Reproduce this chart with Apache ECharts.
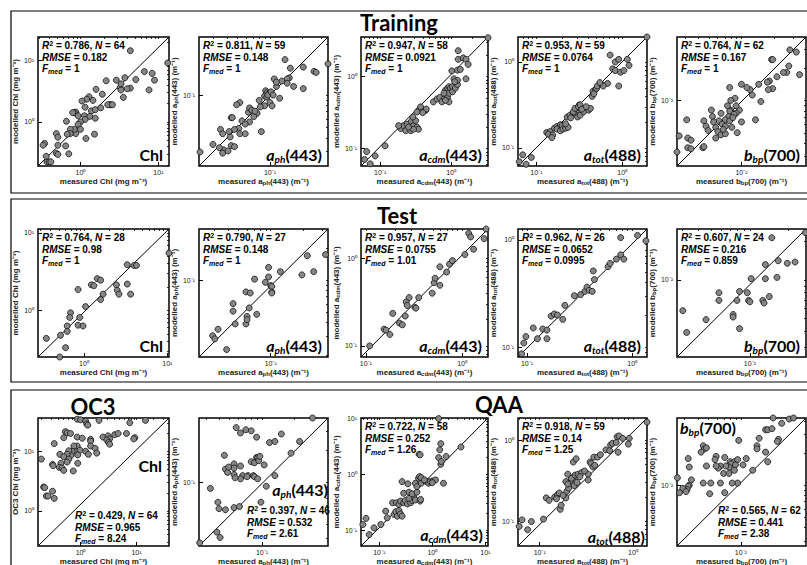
<!DOCTYPE html>
<html><head><meta charset="utf-8">
<script src="https://cdn.jsdelivr.net/npm/echarts@6/dist/echarts.min.js"></script>
<style>html,body{margin:0;padding:0;background:#fff}#c{width:807px;height:565px}</style>
</head><body><div id="c"></div>
<script>
// ---------- DATA (log10 of measured, log10 of modelled) ----------
const trainChl = [[0.64,1.16],[1.12,0.96],[0.82,0.82],[0.92,0.79],[0.95,0.68],[0.71,0.69],[0.57,0.72],[0.46,0.68],[0.51,0.56],[0.52,0.52],[0.64,0.55],[0.88,0.52],[0.55,0.40],[0.33,0.67],[0.20,0.53],[0.28,0.45],[0.39,0.28],[0.37,0.28],[0.35,0.28],[0.11,0.41],[0.08,0.37],[0.02,0.34],[0.06,0.24],[-0.06,0.16],[-0.08,0.15],[-0.10,0.15],[0.05,0.10],[-0.03,0.10],[0.12,0.09],[0.14,0.18],[0.19,0.20],[0.19,0.06],[0.06,0.04],[0.00,0.00],[-0.03,-0.04],[0.00,-0.12],[-0.06,-0.19],[-0.08,-0.12],[-0.13,-0.12],[-0.18,0.01],[-0.13,-0.19],[0.07,-0.27],[0.18,-0.20],[-0.17,-0.20],[-0.31,-0.19],[-0.29,-0.25],[-0.29,-0.38],[-0.31,-0.51],[-0.29,-0.53],[-0.46,-0.35],[-0.48,-0.38],[-0.19,-0.39],[-0.15,-0.52],[-0.43,-0.65],[-0.40,-0.65],[-0.38,-0.65],[-0.44,-0.56],[0.16,0.35],[0.26,0.23],[0.41,0.28],[0.60,0.54],[0.52,0.62]];
const trainAph = [[-0.86,-0.67],[-0.81,-0.75],[-0.69,-0.74],[-0.59,-0.78],[-0.57,-0.79],[-0.46,-0.71],[-0.82,-0.84],[-0.84,-0.85],[-0.84,-0.89],[-0.89,-0.87],[-0.78,-0.92],[-0.69,-0.94],[-0.96,-0.85],[-0.94,-0.92],[-1.04,-0.96],[-1.03,-0.98],[-1.05,-1.01],[-1.03,-1.02],[-1.01,-0.99],[-0.91,-1.03],[-1.00,-1.07],[-0.98,-1.10],[-1.05,-1.10],[-1.09,-1.11],[-1.12,-1.17],[-1.15,-1.20],[-1.20,-1.16],[-1.19,-1.12],[-1.17,-1.14],[-1.14,-1.15],[-1.28,-1.07],[-1.31,-1.09],[-1.36,-1.21],[-1.35,-1.21],[-1.26,-1.24],[-1.19,-1.25],[-1.23,-1.27],[-1.29,-1.31],[-1.28,-1.36],[-1.33,-1.32],[-1.38,-1.34],[-1.46,-1.32],[-1.44,-1.36],[-1.37,-1.39],[-1.08,-1.34],[-1.23,-1.36],[-1.36,-1.47],[-1.33,-1.48],[-1.43,-1.51],[-1.39,-1.52],[-1.47,-1.49],[-1.53,-1.46],[-1.44,-1.54],[-1.65,-1.53],[-0.94,-0.88],[-1.02,-1.00],[-0.99,-0.97],[-0.97,-1.00],[-1.10,-1.05]];
const trainAcdm = [[-1.22,-1.15],[-1.19,-1.04],[-1.14,-1.21],[-1.07,-1.10],[-0.93,-0.96],[-0.71,-0.72],[-0.67,-0.68],[-0.62,-0.66],[-0.56,-0.62],[-0.53,-0.68],[-0.48,-0.70],[-0.50,-0.61],[-0.64,-0.75],[-0.57,-0.75],[-0.46,-0.73],[-0.74,-0.68],[-0.54,-0.56],[-0.53,-0.73],[-0.46,-0.47],[-0.42,-0.45],[-0.39,-0.47],[-0.36,-0.47],[-0.43,-0.42],[-0.48,-0.49],[-0.35,-0.45],[-0.25,-0.35],[-0.20,-0.31],[-0.16,-0.29],[-0.10,-0.31],[-0.05,-0.29],[-0.03,-0.35],[-0.13,-0.35],[-0.08,-0.33],[-0.08,-0.19],[-0.05,-0.16],[-0.03,-0.14],[-0.01,-0.16],[0.02,-0.14],[-0.03,-0.23],[0.02,-0.21],[0.06,-0.16],[-0.10,-0.23],[0.09,-0.11],[0.01,0.08],[0.09,0.09],[0.04,-0.03],[0.09,-0.05],[0.10,0.24],[0.17,0.26],[0.21,0.24],[0.24,0.17],[0.13,0.10],[0.10,0.36],[0.52,0.54],[0.21,-0.03],[0.05,-0.07],[-0.60,-0.70],[-0.40,-0.50]];
const trainAtot = [[-1.20,-1.16],[-1.16,-1.08],[-1.12,-1.19],[-1.06,-1.11],[-0.88,-0.82],[-0.84,-0.81],[-0.86,-0.84],[-0.81,-0.85],[-0.79,-0.77],[-0.76,-0.75],[-0.76,-0.78],[-0.72,-0.73],[-0.70,-0.74],[-0.72,-0.80],[-0.69,-0.78],[-0.66,-0.77],[-0.63,-0.76],[-0.82,-0.88],[-0.64,-0.64],[-0.61,-0.62],[-0.57,-0.59],[-0.54,-0.60],[-0.53,-0.56],[-0.51,-0.53],[-0.50,-0.50],[-0.52,-0.64],[-0.49,-0.62],[-0.57,-0.58],[-0.55,-0.54],[-0.51,-0.52],[-0.49,-0.50],[-0.45,-0.58],[-0.39,-0.56],[-0.37,-0.54],[-0.35,-0.40],[-0.34,-0.34],[-0.31,-0.32],[-0.30,-0.31],[-0.33,-0.37],[-0.29,-0.28],[-0.24,-0.26],[-0.17,-0.25],[-0.22,-0.28],[-0.04,-0.28],[-0.14,0.08],[-0.11,-0.08],[-0.08,-0.10],[-0.08,0.00],[-0.04,0.03],[-0.02,-0.12],[0.06,0.03],[0.08,-0.04],[0.02,-0.10],[0.29,0.29],[-0.60,-0.65],[-0.47,-0.55],[-0.42,-0.52],[-0.26,-0.24],[-0.66,-0.72]];
const trainBbp = [[-1.55,-1.53],[-1.49,-1.55],[-1.72,-1.62],[-1.71,-1.62],[-1.56,-1.68],[-1.58,-1.74],[-1.61,-1.74],[-1.46,-1.76],[-1.67,-1.78],[-1.74,-1.82],[-1.71,-1.89],[-1.76,-1.83],[-1.84,-1.85],[-1.75,-1.90],[-2.00,-1.85],[-2.11,-1.88],[-1.92,-1.90],[-1.90,-1.95],[-2.06,-1.98],[-1.82,-2.01],[-1.87,-2.18],[-2.02,-2.09],[-2.05,-2.12],[-2.10,-2.09],[-2.11,-2.10],[-2.07,-2.13],[-2.12,-2.15],[-2.19,-2.12],[-2.15,-2.18],[-2.21,-2.19],[-2.18,-2.22],[-2.15,-2.24],[-2.11,-2.19],[-2.08,-2.16],[-2.28,-2.09],[-2.27,-2.15],[-2.35,-2.19],[-2.33,-2.24],[-2.31,-2.28],[-2.24,-2.25],[-2.22,-2.29],[-2.24,-2.35],[-2.19,-2.32],[-2.15,-2.31],[-2.04,-2.30],[-2.36,-2.44],[-2.51,-2.18],[-2.58,-2.33],[-2.50,-2.35],[-2.47,-2.37],[-2.50,-2.44],[-2.47,-2.45],[-2.60,-2.48],[-2.10,-2.00],[-2.05,-2.05],[-2.17,-2.27],[-2.35,-2.43],[-2.13,-2.05],[-1.95,-1.88],[-2.00,-2.20],[-2.26,-2.20],[-2.09,-2.25]];

const testChl = [[1.02,0.74],[0.52,0.59],[0.60,0.58],[0.63,0.58],[0.16,0.41],[0.20,0.39],[0.09,0.33],[0.12,0.32],[0.39,0.33],[0.40,0.26],[0.52,0.34],[0.56,0.21],[0.42,0.21],[0.23,0.21],[0.20,0.14],[-0.07,0.27],[0.02,0.05],[-0.16,-0.03],[-0.17,-0.09],[-0.05,-0.09],[-0.07,-0.19],[-0.01,-0.20],[-0.20,-0.20],[-0.20,-0.27],[-0.28,-0.32],[-0.45,-0.36],[-0.22,-0.48],[-0.29,-0.60]];
const testAph = [[-0.49,-0.76],[-0.66,-0.77],[-0.91,-0.92],[-1.02,-0.88],[-1.02,-0.97],[-1.05,-1.02],[-1.15,-0.99],[-1.00,-1.05],[-0.99,-1.06],[-0.99,-1.11],[-0.99,-1.12],[-0.71,-0.95],[-0.60,-0.92],[-1.23,-1.11],[-1.19,-1.12],[-1.20,-1.26],[-1.35,-1.22],[-1.35,-1.29],[-1.22,-1.34],[-1.23,-1.41],[-1.22,-1.37],[-1.13,-1.32],[-1.33,-1.41],[-1.49,-1.46],[-1.54,-1.52],[-1.52,-1.55],[-1.41,-1.65]];
const testAcdm = [[-0.96,-1.00],[-0.81,-0.81],[-0.79,-0.82],[-0.75,-0.87],[-0.72,-0.63],[-0.65,-0.74],[-0.62,-0.76],[-0.59,-0.66],[-0.58,-0.50],[-0.57,-0.54],[-0.55,-0.45],[-0.49,-0.56],[-0.48,-0.57],[-0.45,-0.45],[-0.31,-0.40],[-0.29,-0.28],[-0.28,-0.23],[-0.23,-0.31],[-0.23,-0.10],[-0.16,-0.16],[-0.13,-0.07],[-0.10,-0.03],[0.03,0.04],[0.07,0.28],[0.09,0.24],[0.12,0.10],[0.25,0.33],[0.23,0.22]];
const testAtot = [[-1.05,-1.06],[-1.03,-0.96],[-1.01,-0.90],[-0.94,-0.82],[-0.90,-0.92],[-0.85,-0.83],[-0.81,-0.84],[-0.81,-0.92],[-0.77,-0.71],[-0.74,-0.69],[-0.71,-0.70],[-0.66,-0.74],[-0.64,-0.61],[-0.55,-0.52],[-0.49,-0.51],[-0.45,-0.48],[-0.43,-0.44],[-0.41,-0.47],[-0.38,-0.48],[-0.37,-0.29],[-0.36,-0.37],[-0.23,-0.25],[-0.21,-0.22],[-0.15,-0.18],[-0.11,-0.14],[-0.11,0.02],[-0.08,-0.18],[0.05,0.04],[0.13,-0.01]];
const testBbp = [[-1.83,-1.67],[-1.57,-1.63],[-1.78,-1.85],[-1.71,-1.87],[-1.65,-1.86],[-1.88,-1.88],[-1.99,-1.99],[-1.88,-1.99],[-1.79,-1.98],[-2.08,-2.09],[-2.02,-2.10],[-2.01,-2.16],[-2.24,-2.10],[-2.24,-2.16],[-2.10,-2.16],[-2.00,-2.17],[-1.90,-2.16],[-1.89,-2.18],[-1.85,-2.13],[-2.13,-2.27],[-2.13,-2.29],[-2.34,-2.31],[-2.08,-2.38],[-2.52,-2.24],[-2.49,-2.41]];

const oc3Chl = [[-0.06,1.54],[0.00,1.53],[0.09,1.51],[0.11,1.46],[0.13,1.44],[0.33,1.52],[0.88,1.48],[1.16,1.52],[-0.27,1.33],[-0.24,1.31],[-0.18,1.30],[-0.30,1.23],[-0.47,1.13],[-0.06,1.24],[0.03,1.22],[0.18,1.20],[0.18,1.17],[0.18,1.09],[0.40,1.24],[0.49,1.26],[0.52,1.21],[0.61,1.28],[0.67,1.30],[0.82,1.30],[0.97,1.23],[0.95,1.21],[0.47,1.19],[0.50,1.15],[0.52,1.12],[0.26,1.05],[0.29,0.97],[0.09,1.00],[0.14,0.95],[-0.06,1.09],[-0.12,1.09],[-0.07,1.00],[-0.01,1.02],[-0.15,1.00],[-0.05,0.94],[-0.17,0.93],[-0.21,1.01],[-0.24,0.95],[-0.37,0.95],[-0.30,0.91],[-0.21,0.87],[-0.24,0.82],[-0.05,0.80],[-0.35,0.80],[-0.38,0.73],[-0.33,0.72],[-0.30,0.68],[-0.13,0.67],[-0.50,0.78],[-0.49,0.76],[-0.70,0.87],[-0.66,0.40],[-0.64,0.39],[-0.61,0.25],[-0.58,0.25],[-0.50,0.33],[-0.47,0.21]];
const qaaAph = [[-0.53,-0.40],[-1.24,-0.49],[-1.20,-0.54],[-1.15,-0.51],[-1.10,-0.52],[-1.05,-0.58],[-0.82,-0.55],[-0.93,-0.63],[-0.88,-0.62],[-1.35,-0.75],[-0.73,-0.73],[-0.65,-0.62],[-1.05,-0.77],[-1.04,-0.77],[-1.10,-0.81],[-1.07,-0.82],[-1.26,-0.83],[-1.20,-0.85],[-1.26,-0.87],[-1.34,-0.88],[-1.32,-0.91],[-1.26,-0.93],[-1.18,-0.94],[-1.20,-0.97],[-1.13,-0.94],[-1.08,-0.94],[-1.07,-0.95],[-1.04,-0.97],[-0.98,-0.84],[-0.88,-0.94],[-0.96,-1.04],[-1.01,-1.19],[-1.48,-1.06],[-1.41,-1.19],[-1.40,-1.25],[-1.34,-1.26],[-1.26,-1.24],[-1.21,-1.23],[-1.42,-1.47],[-1.39,-1.52],[-1.58,-1.57],[-1.03,-0.80],[-1.31,-0.86],[-1.14,-0.95],[-1.02,-0.76],[-1.25,-0.96]];
const qaaAcdm = [[-1.31,-0.90],[-1.25,-0.79],[-1.19,-1.08],[-1.10,-0.96],[-0.97,-0.90],[-0.85,-0.78],[-0.88,-0.66],[-0.72,-0.72],[-0.69,-0.67],[-0.66,-0.75],[-0.63,-0.65],[-0.60,-0.71],[-0.57,-0.75],[-0.75,-0.51],[-0.68,-0.51],[-0.63,-0.54],[-0.60,-0.48],[-0.54,-0.51],[-0.51,-0.47],[-0.47,-0.53],[-0.41,-0.51],[-0.38,-0.47],[-0.35,-0.41],[-0.44,-0.43],[-0.32,-0.46],[-0.23,-0.48],[-0.54,-0.34],[-0.44,-0.32],[-0.38,-0.35],[-0.29,-0.32],[-0.57,-0.13],[-0.46,-0.17],[-0.32,-0.16],[-0.29,-0.22],[-0.21,-0.16],[-0.13,-0.12],[-0.10,-0.13],[-0.07,-0.16],[-0.04,-0.13],[0.01,-0.12],[-0.26,-0.07],[-0.24,-0.04],[-0.21,-0.06],[0.21,-0.16],[0.12,0.30],[0.06,-0.10],[0.16,0.18],[0.17,0.23],[0.26,0.32],[0.14,0.44],[0.16,0.55],[0.54,0.49],[-0.25,0.36],[-0.23,0.35],[0.12,1.00],[-0.22,-0.45],[-0.15,-0.10],[0.00,-0.15]];
const qaaAtot = [[-1.22,-1.06],[-1.19,-0.98],[-1.13,-1.10],[-1.09,-1.00],[-0.96,-0.97],[-0.93,-0.71],[-0.90,-0.74],[-0.84,-0.70],[-0.81,-0.67],[-0.79,-0.65],[-0.78,-0.85],[-0.77,-0.80],[-0.72,-0.71],[-0.71,-0.63],[-0.69,-0.59],[-0.67,-0.50],[-0.64,-0.46],[-0.72,-0.51],[-0.70,-0.54],[-0.63,-0.56],[-0.64,-0.27],[-0.61,-0.23],[-0.70,-0.42],[-0.66,-0.47],[-0.62,-0.43],[-0.59,-0.42],[-0.55,-0.40],[-0.48,-0.42],[-0.48,-0.49],[-0.46,-0.27],[-0.45,-0.29],[-0.43,-0.33],[-0.41,-0.31],[-0.42,-0.21],[-0.38,-0.21],[-0.29,-0.12],[-0.25,-0.13],[-0.24,-0.06],[-0.22,-0.04],[-0.18,-0.03],[-0.16,-0.15],[-0.17,0.04],[-0.15,0.05],[-0.11,0.02],[-0.04,0.02],[-0.05,-0.05],[0.15,0.22],[-0.57,-0.45],[-0.52,-0.38],[-0.35,-0.18],[-0.60,-0.52],[-0.75,-0.68],[-0.82,-0.72]];
const qaaBbp = [[-1.70,-1.37],[-1.55,-1.38],[-1.51,-1.37],[-1.62,-1.42],[-1.77,-1.48],[-1.75,-1.48],[-1.71,-1.47],[-1.83,-1.56],[-1.65,-1.57],[-1.66,-1.59],[-2.02,-1.58],[-1.85,-1.63],[-1.85,-1.66],[-1.77,-1.69],[-1.75,-1.78],[-2.35,-1.63],[-2.34,-1.66],[-2.37,-1.69],[-2.32,-1.65],[-2.49,-1.75],[-2.48,-1.83],[-2.23,-1.73],[-2.24,-1.76],[-2.32,-1.82],[-2.15,-1.74],[-2.10,-1.78],[-2.06,-1.78],[-2.03,-1.76],[-2.09,-1.80],[-2.11,-1.83],[-2.14,-1.82],[-2.19,-1.82],[-2.21,-1.84],[-2.23,-1.82],[-2.16,-1.89],[-2.11,-1.89],[-2.05,-1.81],[-2.06,-1.86],[-1.98,-1.81],[-1.95,-1.75],[-1.89,-1.86],[-2.03,-1.98],[-2.08,-1.98],[-2.19,-1.98],[-2.28,-1.98],[-2.35,-1.98],[-2.46,-1.95],[-2.48,-2.00],[-2.49,-2.01],[-2.50,-2.04],[-2.54,-2.03],[-2.59,-1.93],[-2.57,-2.07],[-2.51,-2.06],[-2.29,-2.08],[-2.15,-2.07]];

// axis limits (log10)
const xRangeLog = [
  [[-0.545,1.136],[-1.66,-0.46],[-1.27,0.52],[-1.215,0.29],[-2.6,-1.4]],
  [[-0.55,1.02],[-1.667,-0.467],[-1.05,0.27],[-1.085,0.14],[-2.565,-1.565]],
  [[-0.76,1.58],[-1.586,-0.386],[-1.345,1.05],[-1.233,0.15],[-2.594,-1.394]]];
const yRangeLog = [
  [[-0.718,1.383],[-1.66,-0.46],[-1.24,0.55],[-1.21,0.29],[-2.61,-1.41]],
  [[-0.6,1.05],[-1.72,-0.52],[-1.126,0.33],[-1.09,0.10],[-2.602,-1.602]],
  [[-0.59,1.56],[-1.6,-0.4],[-1.285,1.01],[-1.3,0.27],[-2.57,-1.37]]];

// statistics text
const statR2 = [['0.786','0.811','0.947','0.953','0.764'],['0.764','0.790','0.957','0.962','0.607'],['0.429','0.397','0.722','0.918','0.565']];
const statN = [[64,59,58,59,62],[28,27,27,26,24],[64,46,58,59,62]];
const statRMSE = [['0.182','0.148','0.0921','0.0764','0.167'],['0.98','0.148','0.0755','0.0652','0.216'],['0.965','0.532','0.252','0.14','0.441']];
const statFmed = [['1','1','1','1','1'],['1','1','1.01','0.0995','0.859'],['8.24','2.61','1.26','1.25','2.38']];

const sectionTitles = ['Training','Test','OC3','QAA'];
const varLabels = ['{n|Chl}','{ai|a}{si|ph}{n|(443)}','{ai|a}{si|cdm}{n|(443)}','{ai|a}{si|tot}{n|(488)}','{ai|b}{si|bp}{n|(700)}'];
const xNames = ['measured Chl (mg m⁻³)','measured a{s|ph}(443) (m⁻¹)','measured a{s|cdm}(443) (m⁻¹)','measured a{s|tot}(488) (m⁻¹)','measured b{s|bp}(700) (m⁻¹)'];
const yNames = ['modelled Chl (mg m⁻³)','modelled a{s|ph}(443) (m⁻¹)','modelled a{s|cdm}(443) (m⁻¹)','modelled a{s|tot}(488) (m⁻¹)','modelled b{s|bp}(700) (m⁻¹)'];
const yNameOC3 = 'OC3 Chl (mg m⁻³)';

const panelData = [
  [trainChl,trainAph,trainAcdm,trainAtot,trainBbp],
  [testChl,testAph,testAcdm,testAtot,testBbp],
  [oc3Chl,qaaAph,qaaAcdm,qaaAtot,qaaBbp]];

// ---------- LAYOUT ----------
const colX = [[38,169],[199,328],[361,488],[518,647],[677,806]];
const rowY = [[37,166],[229,357],[418,546]];
const yNameDist = [[17,19,19,20,25],[13,8,18,18,25],[20,8,10,20,25]];
const xNameDist = [15.5,15.5,13];

const F_SANS = '"Liberation Sans", Arial, Helvetica, sans-serif';
const F_CAL = 'Lato, "Open Sans", sans-serif';

const SUPMAP = {'0':'⁰','1':'¹','2':'²','3':'³','4':'⁴','-':'⁻'};
function decadeLabel(v){const e=Math.round(Math.log10(v));return '10'+String(e).split('').map(ch=>SUPMAP[ch]).join('');}
function majors(lo,hi){const out=[];for(let k=Math.ceil(lo);k<=Math.floor(hi);k++)out.push(Math.pow(10,k));return out;}
function allTicks(lo,hi){const out=[];for(let k=Math.floor(lo)-1;k<=Math.ceil(hi);k++){for(let m=1;m<=9;m++){const v=m*Math.pow(10,k);const l=Math.log10(v);if(l>lo+0.01&&l<hi-0.01)out.push(v);}}return out;}

const nameStyle = {fontFamily:F_SANS,fontSize:8,fontWeight:'bold',color:'#222',lineHeight:9,
  rich:{s:{fontFamily:F_SANS,fontSize:6,fontWeight:'bold',color:'#222',verticalAlign:'bottom',lineHeight:5}}};
const statRich = {
  b:{fontFamily:F_SANS,fontSize:10,fontWeight:'bold',color:'#000',lineHeight:11.5},
  i:{fontFamily:F_SANS,fontSize:10,fontWeight:'bold',fontStyle:'italic',color:'#000',lineHeight:11.5},
  sup:{fontFamily:F_SANS,fontSize:7,fontWeight:'bold',color:'#000',verticalAlign:'top',lineHeight:6},
  sub:{fontFamily:F_SANS,fontSize:7,fontWeight:'bold',fontStyle:'italic',color:'#000',verticalAlign:'bottom',lineHeight:6}
};
const labelRich = {
  n:{fontFamily:F_CAL,fontSize:16,fontWeight:'bold',color:'#000',lineHeight:20},
  ai:{fontFamily:F_CAL,fontSize:16,fontWeight:'bold',fontStyle:'italic',color:'#000',lineHeight:20},
  si:{fontFamily:F_CAL,fontSize:10,fontWeight:'bold',fontStyle:'italic',color:'#000',verticalAlign:'bottom',lineHeight:8}
};

const grids=[],xAxes=[],yAxes=[],series=[],graphics=[];

// section frames
[[11,11,182],[11,199,183],[11,390,185]].forEach(f=>{
  graphics.push({type:'rect',shape:{x:f[0],y:f[1],width:830,height:f[2]},style:{fill:'none',stroke:'#000',lineWidth:1.2},z:0,silent:true});
});
// section titles
[[399,22,sectionTitles[0]],[397,215,sectionTitles[1]],[93,406,sectionTitles[2]],[499,404,sectionTitles[3]]].forEach(t=>{
  graphics.push({type:'text',x:t[0],y:t[1],z:60,silent:true,style:{text:t[2],fontFamily:F_CAL,fontSize:22,fontWeight:'bold',fill:'#000',align:'center',verticalAlign:'middle',textAlign:'center',textVerticalAlign:'middle'}});
});

for(let r=0;r<3;r++){
  for(let c=0;c<5;c++){
    const i=r*5+c;
    const L=colX[c][0],R=colX[c][1],T=rowY[r][0],B=rowY[r][1];
    const xr=xRangeLog[r][c], yr=yRangeLog[r][c];
    grids.push({left:L,top:T,width:R-L,height:B-T,show:true,borderColor:'#000',borderWidth:1.5,backgroundColor:'rgba(0,0,0,0)',containLabel:false,outerBoundsMode:'none'});
    const xmin=Math.pow(10,xr[0]),xmax=Math.pow(10,xr[1]),ymin=Math.pow(10,yr[0]),ymax=Math.pow(10,yr[1]);
    const xMaj=majors(xr[0],xr[1]),yMaj=majors(yr[0],yr[1]);
    xAxes.push({type:'log',logBase:10,gridIndex:i,position:'bottom',min:xmin,max:xmax,
      axisLine:{show:false},splitLine:{show:false},
      axisTick:{show:true,inside:true,length:4,lineStyle:{color:'#000',width:1},customValues:xMaj},
      axisLabel:{show:true,customValues:xMaj,formatter:decadeLabel,fontFamily:F_SANS,fontSize:7,color:'#222',margin:3},
      name:xNames[c],nameLocation:'middle',nameGap:xNameDist[r]-4.5,nameTextStyle:nameStyle});
    xAxes.push({type:'log',logBase:10,gridIndex:i,position:'top',min:xmin,max:xmax,
      axisLine:{show:false},splitLine:{show:false},axisLabel:{show:false},
      axisTick:{show:true,inside:true,length:2,lineStyle:{color:'#000',width:0.8},customValues:allTicks(xr[0],xr[1])}});
    yAxes.push({type:'log',logBase:10,gridIndex:i,position:'left',min:ymin,max:ymax,
      axisLine:{show:false},splitLine:{show:false},
      axisTick:{show:true,inside:true,length:4,lineStyle:{color:'#000',width:1},customValues:yMaj},
      axisLabel:{show:true,customValues:yMaj,formatter:decadeLabel,fontFamily:F_SANS,fontSize:7,color:'#222',margin:4},
      name:(r===2&&c===0)?yNameOC3:yNames[c],nameLocation:'middle',nameRotate:90,nameGap:yNameDist[r][c]-4.5,nameTextStyle:nameStyle});
    yAxes.push({type:'log',logBase:10,gridIndex:i,position:'right',min:ymin,max:ymax,
      axisLine:{show:false},splitLine:{show:false},axisLabel:{show:false},
      axisTick:{show:true,inside:true,length:2,lineStyle:{color:'#000',width:0.8},customValues:allTicks(yr[0],yr[1])}});
    series.push({type:'line',xAxisIndex:2*i,yAxisIndex:2*i,data:[[xmin,ymin],[xmax,ymax]],symbol:'none',
      lineStyle:{color:'#000',width:1},z:2,silent:true,animation:false});
    series.push({type:'scatter',xAxisIndex:2*i,yAxisIndex:2*i,
      data:panelData[r][c].map(p=>[Math.pow(10,p[0]),Math.pow(10,p[1])]),
      symbol:'circle',symbolSize:6,itemStyle:{color:'#868686',borderColor:'#111',borderWidth:0.8,opacity:1},z:3,silent:true,animation:false});

    // annotation text
    const stats='{i|R}{sup|2}{b| = '+statR2[r][c]+', }{i|N}{b| = '+statN[r][c]+'}\n{i|RMSE}{b| = '+statRMSE[r][c]+'}\n{i|F}{sub|med}{b| = '+statFmed[r][c]+'}';
    let sx=L+4,sy=T+3,lx=R-6,ly=B-2,la='right',lv='bottom';
    if(r===2){
      if(c===0){sx=L+37;sy=510;lx=R-7;ly=465;lv='middle';}
      if(c===1){sx=L+48;sy=505;lx=R;ly=489;lv='middle';}
      if(c===2){lx=R-5;ly=B-2;}
      if(c===3){lx=R-2;ly=B;}
      if(c===4){sx=L+41;sy=505;lx=L+3;ly=427;la='left';lv='middle';}
    }
    graphics.push({type:'text',x:sx,y:sy,z:60,silent:true,style:{text:stats,rich:statRich,fontFamily:F_SANS,fontSize:10,fontWeight:'bold',fill:'#000',align:'left',verticalAlign:'top',textAlign:'left',textVerticalAlign:'top'}});
    graphics.push({type:'text',x:lx,y:ly,z:60,silent:true,style:{text:varLabels[c],rich:labelRich,fontFamily:F_CAL,fontSize:16,fontWeight:'bold',fill:'#000',align:la,verticalAlign:lv,textAlign:la,textVerticalAlign:lv}});
  }
}

const chart = echarts.init(document.getElementById('c'), null, {renderer:'svg'});
chart.setOption({
  animation:false,
  backgroundColor:'#fff',
  grid:grids, xAxis:xAxes, yAxis:yAxes, series:series,
  graphic:{elements:graphics}
});
</script></body></html>
